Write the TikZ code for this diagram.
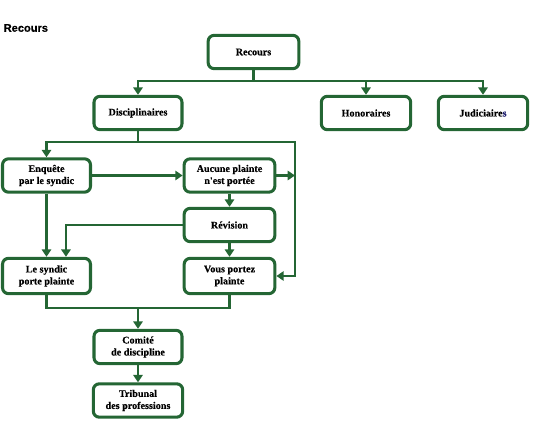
\documentclass[tikz,border=0pt]{standalone}
\usepackage{fontspec}
\setmainfont{Liberation Serif}
\newfontfamily\boxfont{Liberation Serif}[BoldFeatures={FakeBold=0.4}]
\newfontfamily\titlefont{Liberation Sans}[BoldFeatures={FakeBold=0.5}]
\usetikzlibrary{arrows.meta,calc}
\definecolor{dgreen}{RGB}{36,102,52}
\definecolor{navyish}{RGB}{30,30,110}
\tikzset{
  box/.style={draw=dgreen, line width=2.3pt, rounded corners=4.5pt, fill=white,
    align=center, inner sep=0pt, font=\boxfont\bfseries\fontsize{7.6}{9}\selectfont,
    minimum width=66pt, minimum height=25pt},
  conn/.style={draw=dgreen, line width=2.2pt},
  arr/.style={conn, -{Triangle[width=7pt,length=5.5pt]}},
}
\begin{document}
\begin{tikzpicture}[x=0.75pt,y=-0.75pt]
\useasboundingbox (0,0) rectangle (537,424);
\node[anchor=west, font=\titlefont\bfseries\fontsize{8.3}{10}\selectfont] (title) at (-1,28) {Recours};

\node[box, minimum width=68pt] (rec) at (253.5,52) {Recours};
\node[box] (dis) at (138,113) {Disciplinaires};
\node[box, minimum width=67pt] (hon) at (366,113) {Honoraires};
\node[box, minimum width=67pt] (jud) at (483,113) {Judiciaire\textcolor{navyish}{s}};
\node[box] (enq) at (46.5,175.5) {Enquête\\par le syndic};
\node[box, minimum width=68pt] (auc) at (229.5,175.5) {Aucune plainte\\n'est portée};
\node[box, minimum width=68pt] (rev) at (229.5,225) {Révision};
\node[box, minimum height=26.5pt] (syn) at (46.5,276) {Le syndic\\porte plainte};
\node[box, minimum width=68pt, minimum height=26.5pt] (vou) at (229.5,276) {Vous portez\\plainte};
\node[box] (com) at (138,347) {Comité\\de discipline};
\node[box, minimum width=67pt] (tri) at (138,400.5) {Tribunal\\des professions};

% level 1
\coordinate (h1) at (253.5,81);
\draw[conn] (rec.south) -- (h1);
\draw[arr] (h1) -| (dis.north);
\draw[arr] (h1) -| (hon.north);
\draw[arr] (hon.north |- h1) -| (jud.north);

% level 2
\coordinate (h2) at (138,142);
\coordinate (r1) at (295,142);
\draw[conn] (dis.south) -- (h2);
\draw[arr] (h2) -| (enq.north);
\draw[arr] (h2) -- (r1) |- (vou.east);
\draw[arr] (enq) -- (auc);
\draw[arr] (auc.east) -- (auc.east -| r1);
\draw[arr] (auc) -- (rev);
\draw[arr] (rev) -- (vou);
\draw[arr] (enq) -- (syn);
\draw[arr] (rev.west) -| ([xshift=14.6pt]syn.north);

% bottom
\coordinate (b) at (138,308);
\draw[conn] (syn.south) |- (b) -| (vou.south);
\draw[arr] (b) -- (com.north);
\draw[arr] (com) -- (tri);
\end{tikzpicture}
\end{document}
